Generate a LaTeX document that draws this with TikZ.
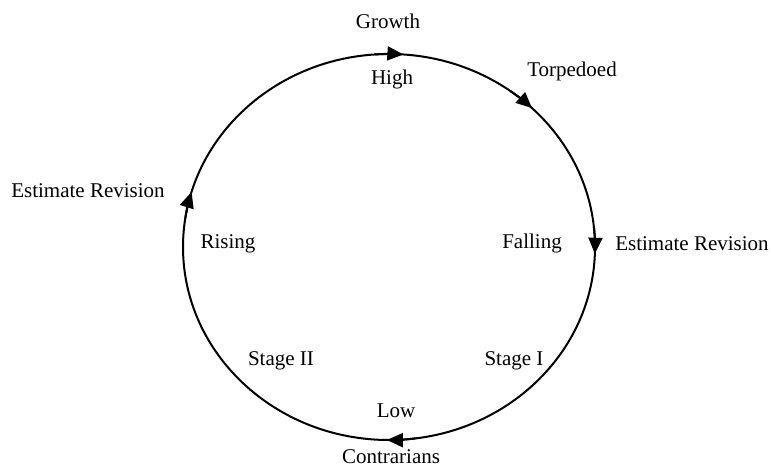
\documentclass[tikz,border=0pt]{standalone}
\usepackage{fontspec}
\setmainfont{Liberation Serif}
\usetikzlibrary{arrows.meta,calc}
\begin{document}
\begin{tikzpicture}[x=1pt,y=1pt,
  cyc/.style={line width=2pt,black},
  tipped/.style={line width=2pt,black,-{Triangle[length=16pt,width=14pt]}},
  lbl/.style={anchor=base,inner sep=0pt,font=\fontsize{21}{25}\selectfont}]
\useasboundingbox (0,0) rectangle (771,-468);
\coordinate (c) at (389,-247);
\draw[cyc] (c) ellipse [x radius=206, y radius=193];
\foreach \a in {86,46,-2,-90.6,163.4}{
  \draw[tipped] ($(c)+({\a+8}:206 and 193)$) arc[start angle=\a+8, end angle=\a, x radius=206, y radius=193];
}
\node[lbl] (growth) at (388,-29) {Growth};
\node[lbl] (high) at (392,-85) {High};
\node[lbl] (torp) at (572,-77) {Torpedoed};
\node[lbl] (estr) at (692,-250) {Estimate Revision};
\node[lbl] (fall) at (532,-248) {Falling};
\node[lbl] (estl) at (88,-197) {Estimate Revision};
\node[lbl] (rise) at (228,-248) {Rising};
\node[lbl] (s2) at (281,-365) {Stage II};
\node[lbl] (s1) at (514,-365) {Stage I};
\node[lbl] (low) at (396,-417) {Low};
\node[lbl] (contr) at (391,-463) {Contrarians};
\end{tikzpicture}
\end{document}
